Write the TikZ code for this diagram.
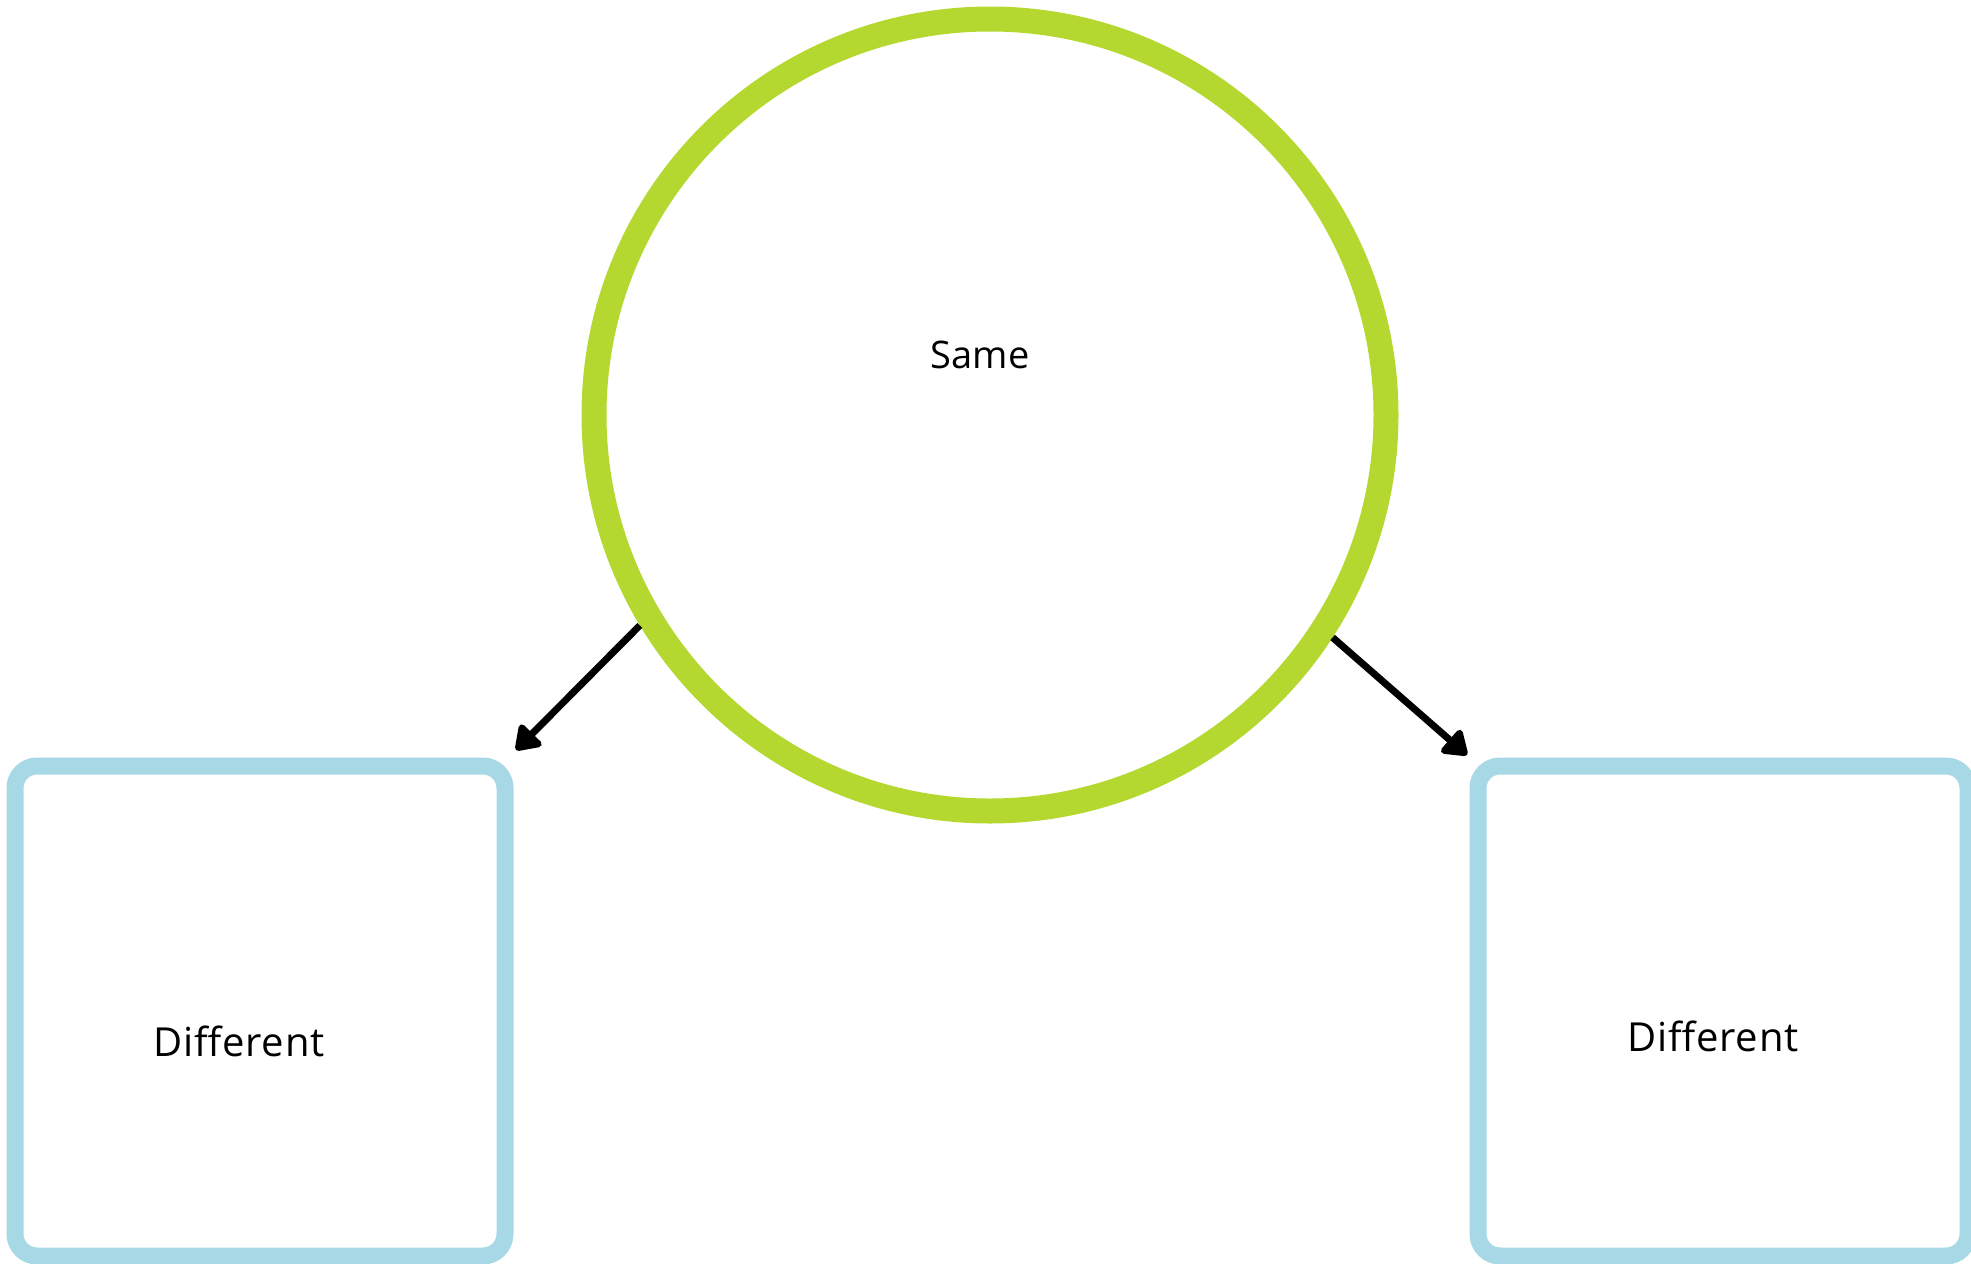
\documentclass[tikz,border=0pt]{standalone}
\usepackage{fontspec}
\setmainfont{Open Sans}
\usetikzlibrary{arrows.meta}
\definecolor{ringgreen}{RGB}{180,216,47}
\definecolor{boxblue}{RGB}{166,216,230}
\tikzset{
  ring/.style={circle, draw=ringgreen, line width=12.5pt, minimum size=396pt, inner sep=0pt},
  frame/.style={rectangle, draw=boxblue, line width=8.5pt, rounded corners=11pt,
                minimum width=245pt, minimum height=245pt, inner sep=0pt},
  caption/.style={font=\fontsize{19pt}{22pt}\selectfont, text=black, inner sep=0pt},
  boxcaption/.style={font=\fontsize{20pt}{23pt}\selectfont\addfontfeature{LetterSpace=2},
                     text=black, inner sep=0pt},
  pointer/.style={line width=3.5pt, draw=black,
                  -{Triangle[length=13pt, width=17pt, round]}}
}
\begin{document}
\begin{tikzpicture}[x=0.5pt, y=-0.5pt]
  \useasboundingbox (0,0) rectangle (1971,1264);
  \clip (0,0) rectangle (1971,1264);
  % central ring and its label
  \node[ring] (same) at (990,415) {};
  \node[caption] (sametext) at (980,355) {Same};
  % the two boxes below
  \node[frame] (leftbox) at (260,1011) {};
  \node[boxcaption] (lefttext) at (239,1041) {Different};
  \node[frame] (rightbox) at (1723,1011) {};
  \node[boxcaption] (righttext) at (1713,1036) {Different};
  % arrow tips just above the box corners
  \coordinate (lefttip) at (516,750);
  \coordinate (righttip) at (1467,755);
  \draw[pointer] (same.211.1) -- (lefttip);
  \draw[pointer] (same.-33.3) -- (righttip);
\end{tikzpicture}
\end{document}
